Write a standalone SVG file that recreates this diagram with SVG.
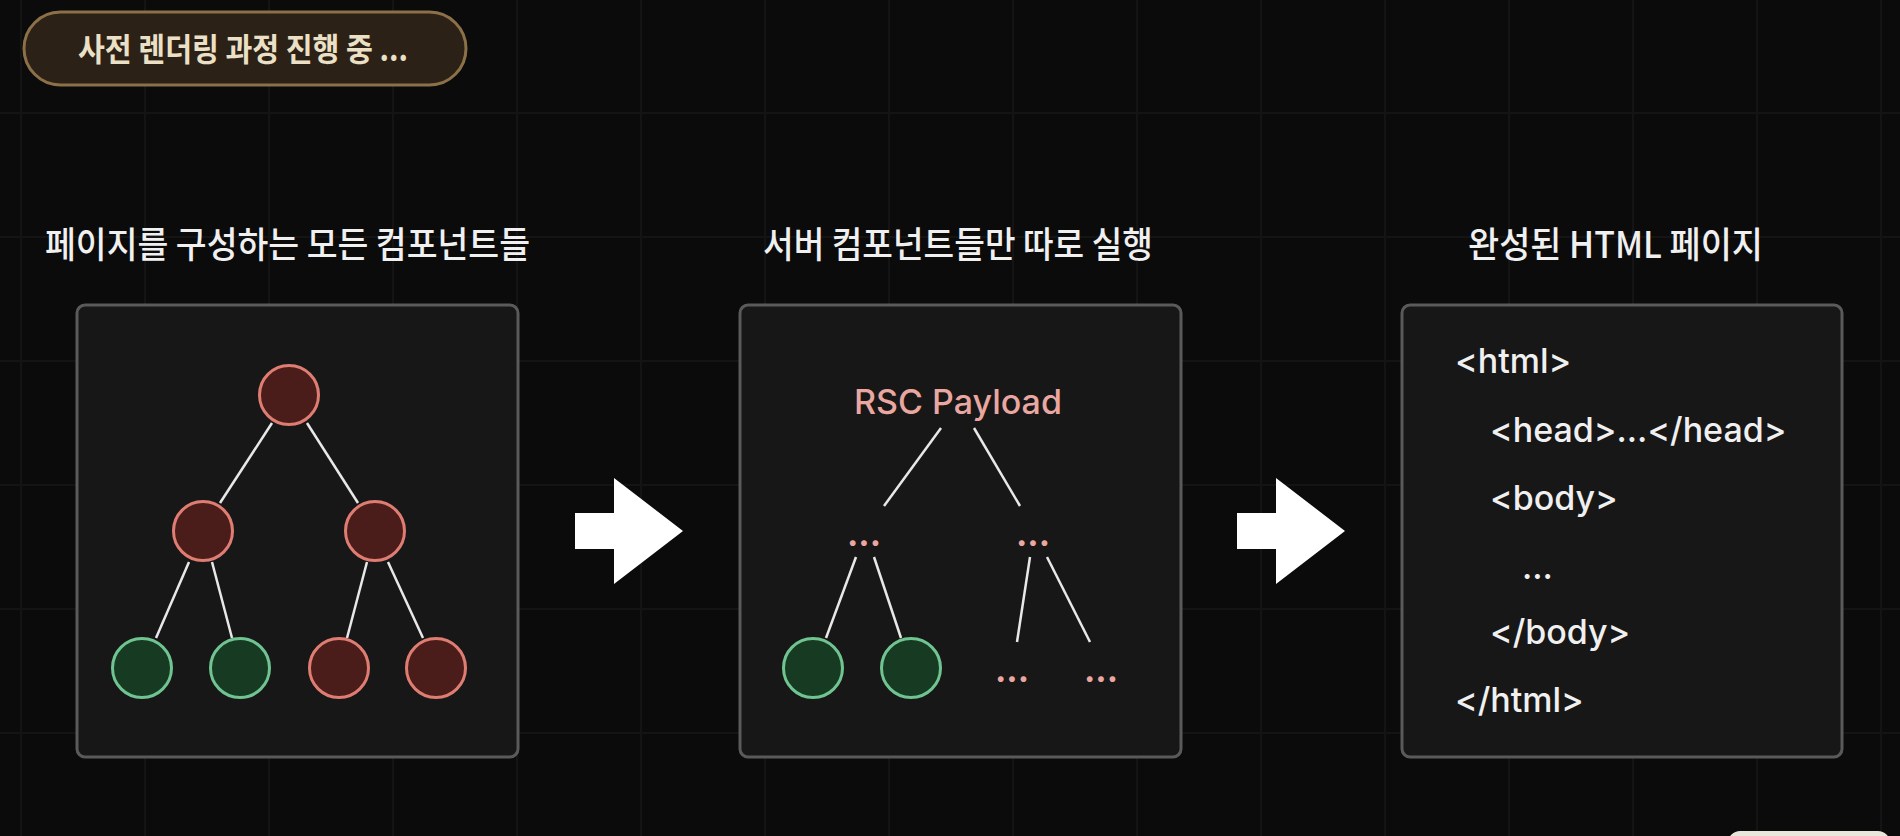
<svg xmlns="http://www.w3.org/2000/svg" width="1900" height="836" viewBox="0 0 1900 836">
<defs>
<style>
.grid line{stroke:#141414;stroke-width:2}
.panel{fill:#171717;stroke:#5a5a5a;stroke-width:3}
.hdr{font-family:"Noto Sans CJK KR","Noto Sans",sans-serif;font-size:36px;font-weight:500;fill:#f0f0f0;text-anchor:middle}
.red{fill:#4a1d1a;stroke:#e07d73;stroke-width:3}
.green{fill:#173a22;stroke:#70c491;stroke-width:3}
.edge line{stroke:#e8e8e8;stroke-width:2.5}
.pink{font-family:Inter,"Liberation Sans",sans-serif;fill:#eaa7a1}
.dots{font-size:34px;font-weight:700;text-anchor:middle}
.code{font-family:Inter,"Liberation Sans",sans-serif;font-size:34px;font-weight:500;fill:#f0f0f0}
.arrow{fill:#ffffff}
</style>
</defs>
<rect width="1900" height="836" fill="#0b0b0b"/>
<g class="grid">
<line x1="21" y1="0" x2="21" y2="836"/>
<line x1="145" y1="0" x2="145" y2="836"/>
<line x1="269" y1="0" x2="269" y2="836"/>
<line x1="393" y1="0" x2="393" y2="836"/>
<line x1="517" y1="0" x2="517" y2="836"/>
<line x1="641" y1="0" x2="641" y2="836"/>
<line x1="765" y1="0" x2="765" y2="836"/>
<line x1="889" y1="0" x2="889" y2="836"/>
<line x1="1013" y1="0" x2="1013" y2="836"/>
<line x1="1137" y1="0" x2="1137" y2="836"/>
<line x1="1261" y1="0" x2="1261" y2="836"/>
<line x1="1385" y1="0" x2="1385" y2="836"/>
<line x1="1509" y1="0" x2="1509" y2="836"/>
<line x1="1633" y1="0" x2="1633" y2="836"/>
<line x1="1757" y1="0" x2="1757" y2="836"/>
<line x1="1881" y1="0" x2="1881" y2="836"/>
<line x1="0" y1="113" x2="1900" y2="113"/>
<line x1="0" y1="237" x2="1900" y2="237"/>
<line x1="0" y1="361" x2="1900" y2="361"/>
<line x1="0" y1="485" x2="1900" y2="485"/>
<line x1="0" y1="609" x2="1900" y2="609"/>
<line x1="0" y1="733" x2="1900" y2="733"/>
</g>

<g id="badge">
<rect x="24" y="12" width="442" height="73" rx="36.5" fill="#2b2116" stroke="#8c7148" stroke-width="3"/>
<text x="243" y="61" font-family="'Noto Sans CJK KR','Noto Sans',sans-serif" font-size="32" font-weight="600" fill="#ebe0c6" text-anchor="middle" textLength="330" lengthAdjust="spacingAndGlyphs">사전 렌더링 과정 진행 중 ...</text>
</g>

<g id="header-1"><text class="hdr" x="287.5" y="258" textLength="485" lengthAdjust="spacingAndGlyphs">페이지를 구성하는 모든 컴포넌트들</text></g>
<g id="header-2"><text class="hdr" x="958" y="258" textLength="390" lengthAdjust="spacingAndGlyphs">서버 컴포넌트들만 따로 실행</text></g>
<g id="header-3"><text class="hdr" x="1615.5" y="258" textLength="295" lengthAdjust="spacingAndGlyphs">완성된 HTML 페이지</text></g>

<g id="panel-all">
<rect class="panel" x="77" y="305" width="441" height="452" rx="8"/>
</g>
<g id="panel-server">
<rect class="panel" x="740" y="305" width="441" height="452" rx="8"/>
</g>
<g id="panel-html">
<rect class="panel" x="1402" y="305" width="440" height="452" rx="8"/>
</g>

<g id="connectors">
<g class="edge">
<line x1="272" y1="423" x2="220" y2="503"/>
<line x1="307" y1="423" x2="358" y2="503"/>
<line x1="189" y1="562" x2="156" y2="638"/>
<line x1="212" y1="562" x2="232" y2="638"/>
<line x1="367" y1="562" x2="347" y2="638"/>
<line x1="388" y1="562" x2="423" y2="638"/>
<line x1="941" y1="428" x2="884" y2="506"/>
<line x1="974" y1="428" x2="1020" y2="506"/>
<line x1="856" y1="557" x2="826" y2="638"/>
<line x1="874" y1="557" x2="901" y2="638"/>
<line x1="1030" y1="557" x2="1017" y2="642"/>
<line x1="1047" y1="557" x2="1090" y2="642"/>
</g>
<polygon class="arrow" points="575,513 614,513 614,478 683,531 614,584 614,549 575,549"/>
<polygon class="arrow" points="1237,513 1276,513 1276,478 1345,531 1276,584 1276,549 1237,549"/>
</g>

<g id="tree-root"><circle class="red" cx="289" cy="395" r="29.5"/></g>
<g id="tree-l"><circle class="red" cx="203" cy="531" r="29.5"/></g>
<g id="tree-r"><circle class="red" cx="375" cy="531" r="29.5"/></g>
<g id="tree-ll"><circle class="green" cx="142" cy="668" r="29.5"/></g>
<g id="tree-lr"><circle class="green" cx="240" cy="668" r="29.5"/></g>
<g id="tree-rl"><circle class="red" cx="339" cy="668" r="29.5"/></g>
<g id="tree-rr"><circle class="red" cx="436" cy="668" r="29.5"/></g>

<g id="rsc-root"><text class="pink" x="958" y="414" font-size="34" font-weight="500" text-anchor="middle">RSC Payload</text></g>
<g id="rsc-l"><text class="pink dots" x="864" y="546">...</text></g>
<g id="rsc-r"><text class="pink dots" x="1033" y="546">...</text></g>
<g id="rsc-ll"><circle class="green" cx="813" cy="668" r="29.5"/></g>
<g id="rsc-lr"><circle class="green" cx="911" cy="668" r="29.5"/></g>
<g id="rsc-rl"><text class="pink dots" x="1012" y="682">...</text></g>
<g id="rsc-rr"><text class="pink dots" x="1101" y="682">...</text></g>

<g id="html-code">
<text class="code" x="1455" y="373">&lt;html&gt;</text>
<text class="code" x="1490" y="442">&lt;head&gt;...&lt;/head&gt;</text>
<text class="code" x="1490" y="510">&lt;body&gt;</text>
<text class="code" x="1522" y="579">...</text>
<text class="code" x="1490" y="644">&lt;/body&gt;</text>
<text class="code" x="1455" y="712">&lt;/html&gt;</text>
</g>

<g id="corner-button">
<rect x="1728" y="831" width="162" height="24" rx="12" fill="#e9e6dc"/>
</g>
</svg>
